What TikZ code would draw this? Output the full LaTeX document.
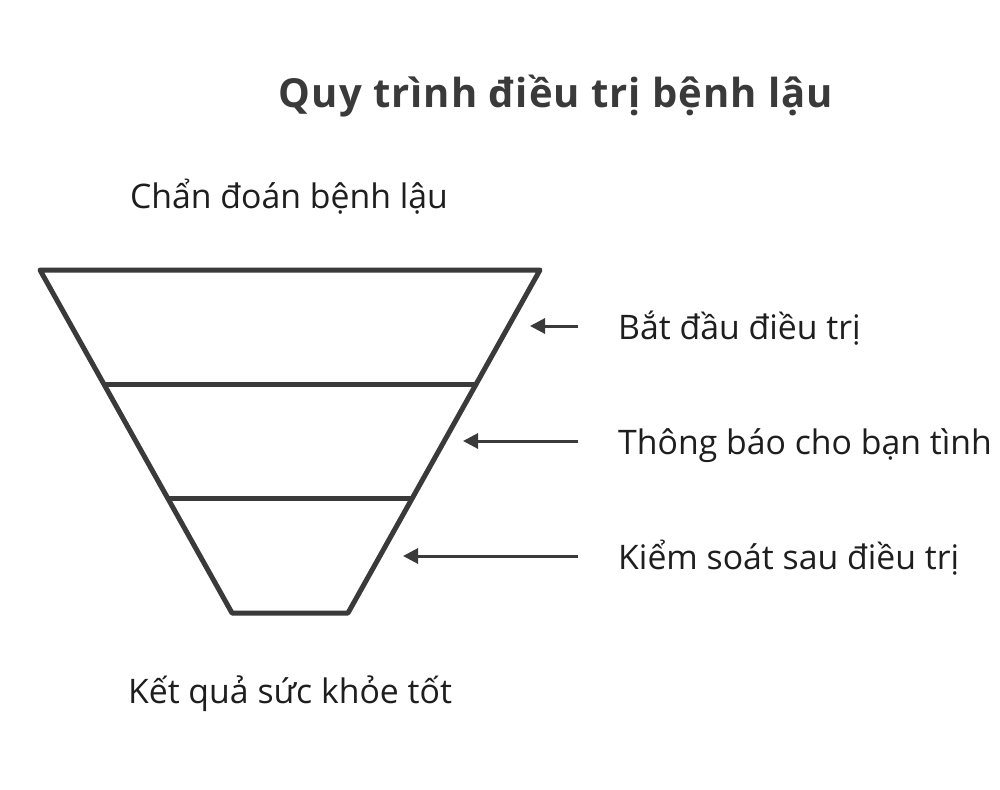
\documentclass[tikz,border=0pt]{standalone}
\usepackage{fontspec}
\setmainfont{Open Sans}
\usetikzlibrary{arrows.meta}
\definecolor{ink}{HTML}{3A3A3A}
\definecolor{txt}{HTML}{1E1E1E}
\tikzset{
  funnel/.style={draw=ink, line width=5pt, line join=round, line cap=round},
  pointer/.style={draw=ink, line width=3pt, -{Triangle[length=15pt,width=15pt]}},
  label/.style={text=txt, inner sep=0pt, font=\fontsize{33.8}{38}\selectfont},
  heading/.style={text=ink, inner sep=0pt, font=\bfseries\fontsize{40}{46}\selectfont\addfontfeature{LetterSpace=2.5}}
}
\begin{document}
\begin{tikzpicture}[x=1pt,y=-1pt]
\useasboundingbox[fill=white] (0,0) rectangle (1000,789);
% funnel corners
\coordinate (tl) at (40,270);
\coordinate (tr) at (540,270);
\coordinate (bl) at (232,613);
\coordinate (br) at (348,613);
\coordinate (m1l) at (106,384);
\coordinate (m1r) at (474,384);
\coordinate (m2l) at (170,498);
\coordinate (m2r) at (411,498);
\draw[funnel] (tl) -- (tr) -- (br) -- (bl) -- cycle;
\draw[funnel] (m1l) -- (m1r);
\draw[funnel] (m2l) -- (m2r);
% texts
\node[heading, anchor=base] (title) at (556,107) {Quy trình điều trị bệnh lậu};
\node[label, anchor=base] (top) at (289,208) {Chẩn đoán bệnh lậu};
\node[label, anchor=base] (bottom) at (290,703) {Kết quả sức khỏe tốt};
\node[label, anchor=base west] (s1) at (618,339) {Bắt đầu điều trị};
\node[label, anchor=base west] (s2) at (618,454) {Thông báo cho bạn tình};
\node[label, anchor=base west] (s3) at (618,569) {Kiểm soát sau điều trị};
% arrows
\coordinate (a1s) at (578,326); \coordinate (a1e) at (530,326);
\coordinate (a2s) at (578,441); \coordinate (a2e) at (463,441);
\coordinate (a3s) at (578,556); \coordinate (a3e) at (403,556);
\draw[pointer] (a1s) -- (a1e);
\draw[pointer] (a2s) -- (a2e);
\draw[pointer] (a3s) -- (a3e);
\end{tikzpicture}
\end{document}
